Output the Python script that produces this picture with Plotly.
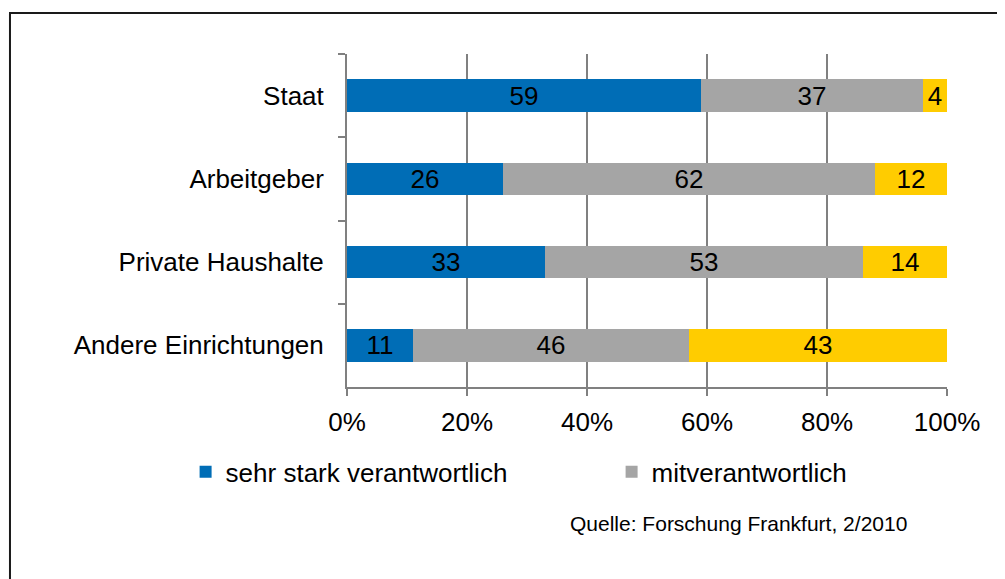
import plotly.graph_objects as go

categories = ["Staat", "Arbeitgeber", "Private Haushalte", "Andere Einrichtungen"]
sehr_stark = [59, 26, 33, 11]
mitverantwortlich = [37, 62, 53, 46]
weniger = [4, 12, 14, 43]
series_names = ["sehr stark verantwortlich", "mitverantwortlich", "weniger verantwortlich"]
colors = ["#006DB6", "#A5A5A5", "#FFCC00"]
x_ticks = [0, 20, 40, 60, 80, 100]
x_ticklabels = ["0%", "20%", "40%", "60%", "80%", "100%"]
source_text = "Quelle: Forschung Frankfurt, 2/2010"

FONT = "Liberation Sans, Arial, sans-serif"

fig = go.Figure()
for vals, name, col, show, lg in zip([sehr_stark, mitverantwortlich, weniger], series_names, colors,
                                     [True, True, False], ["legend", "legend2", "legend"]):
    fig.add_trace(go.Bar(
        y=categories, x=vals, name=name, orientation="h",
        marker=dict(color=col, line=dict(width=0)),
        text=[str(v) for v in vals], textposition="inside", insidetextanchor="middle",
        textangle=0, constraintext="none",
        textfont=dict(family=FONT, size=26, color="black"),
        showlegend=show, legend=lg, hoverinfo="x+y+name",
    ))

legend_common = dict(
    orientation="h", xanchor="left", yanchor="middle", y=-0.255,
    font=dict(size=26, color="black"), bgcolor="rgba(0,0,0,0)",
)

fig.update_layout(
    barmode="stack",
    bargap=0.61,
    width=997, height=571,
    margin=dict(l=339, r=58, t=46, b=192),
    paper_bgcolor="white", plot_bgcolor="white",
    font=dict(family=FONT, size=26, color="black"),
    xaxis=dict(
        range=[0, 100], tickvals=x_ticks, ticktext=x_ticklabels,
        showgrid=True, gridcolor="#808080", gridwidth=2,
        showline=True, linecolor="#808080", linewidth=2,
        ticks="outside", ticklen=7, tickwidth=2, tickcolor="#808080",
        tickfont=dict(size=26, color="black"), zeroline=False,
        ticklabelstandoff=4,
        fixedrange=True,
    ),
    yaxis=dict(
        categoryorder="array", categoryarray=categories, autorange="reversed",
        showline=True, linecolor="#808080", linewidth=2,
        ticks="outside", ticklen=7, tickwidth=2, tickcolor="#808080",
        tickson="boundaries", ticklabelstandoff=16,
        tickfont=dict(size=26, color="black"), showgrid=False,
        fixedrange=True,
    ),
    legend=dict(x=-0.269, **legend_common),
    legend2=dict(x=0.441, **legend_common),
    annotations=[dict(
        text=source_text, xref="paper", yref="paper", x=0.652, y=-0.411,
        xanchor="center", yanchor="middle", showarrow=False,
        font=dict(size=21, color="black"),
    )],
    shapes=[dict(
        type="rect", xref="paper", yref="paper",
        x0=-0.5617, x1=1.3, y0=1.123, y1=-0.8,
        line=dict(color="#1a1a1a", width=2), fillcolor="rgba(0,0,0,0)", layer="below",
    )],
)

fig.write_html("out.html")
